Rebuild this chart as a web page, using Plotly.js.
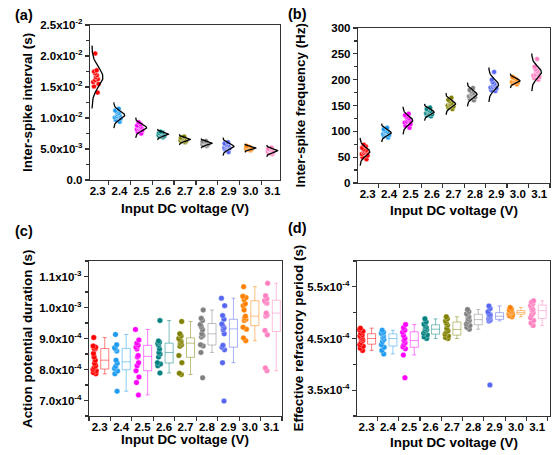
<!DOCTYPE html>
<html><head><meta charset="utf-8">
<script src="https://cdn.plot.ly/plotly-3.0.1.min.js"></script>
<style>html,body{margin:0;padding:0;background:#fff}#chart{width:555px;height:455px}</style>
</head><body><div id="chart"></div>
<script>
// ---------------- data ----------------
const voltages = [2.3, 2.4, 2.5, 2.6, 2.7, 2.8, 2.9, 3.0, 3.1];
const voltageLabels = ['2.3', '2.4', '2.5', '2.6', '2.7', '2.8', '2.9', '3.0', '3.1'];
const groupColors = ['#FF0000', '#1E9BF0', '#FF00FF', '#008080', '#808000', '#808080', '#5566F0', '#FF8000', '#FF80C0'];

// (a) inter-spike interval (s)
const isiValues = [
  [0.0204, 0.0177, 0.0175, 0.0172, 0.0169, 0.0166, 0.0163, 0.0161, 0.0158, 0.0155, 0.0151, 0.0141],
  [0.0115, 0.0112, 0.0110, 0.0108, 0.0106, 0.0104, 0.0103, 0.0101, 0.0099, 0.0097, 0.0094],
  [0.0093, 0.0090, 0.0088, 0.0087, 0.0086, 0.0085, 0.0084, 0.0083, 0.0082, 0.0080, 0.0078, 0.0075],
  [0.0078, 0.0077, 0.0076, 0.0075, 0.0074, 0.0074, 0.0073, 0.0073, 0.0072, 0.0071, 0.0070, 0.0069],
  [0.0070, 0.0068, 0.0067, 0.0066, 0.0066, 0.0065, 0.0065, 0.0064, 0.0063, 0.0062, 0.0061],
  [0.0063, 0.0062, 0.0061, 0.0060, 0.0060, 0.0059, 0.0059, 0.0058, 0.0057, 0.0056, 0.0055],
  [0.0061, 0.0059, 0.0057, 0.0056, 0.0055, 0.0054, 0.0053, 0.0052, 0.0051, 0.0049, 0.0045],
  [0.0055, 0.0054, 0.0053, 0.0052, 0.0052, 0.0051, 0.0051, 0.0050, 0.0049, 0.0048],
  [0.0052, 0.0050, 0.0049, 0.0048, 0.0048, 0.0047, 0.0047, 0.0046, 0.0045, 0.0043, 0.0042]
];
const isiTickVals = [0, 0.005, 0.010, 0.015, 0.020, 0.025];
const isiTickText = ['0.0', '5.0x10<sup>-3</sup>', '1.0x10<sup>-2</sup>', '1.5x10<sup>-2</sup>', '2.0x10<sup>-2</sup>', '2.5x10<sup>-2</sup>'];

// (b) inter-spike frequency (Hz)
const freqValues = [
  [74, 71, 68, 65, 63, 61, 60, 58, 56, 53, 50, 46],
  [107, 104, 101, 99, 98, 97, 96, 95, 93, 91, 88],
  [134, 131, 128, 125, 123, 121, 119, 117, 114, 111, 107],
  [146, 143, 141, 139, 138, 137, 136, 135, 133, 131, 129],
  [165, 161, 158, 155, 153, 152, 151, 150, 148, 146, 143],
  [184, 180, 177, 174, 172, 171, 170, 168, 166, 163, 160],
  [215, 200, 195, 192, 190, 188, 186, 185, 183, 180, 178],
  [205, 203, 201, 199, 198, 197, 196, 195, 193, 191],
  [240, 225, 220, 217, 215, 213, 210, 208, 205, 203, 200]
];
const freqTickVals = [0, 50, 100, 150, 200, 250, 300];
const freqTickText = ['0', '50', '100', '150', '200', '250', '300'];

// (c) action potential duration (s)
const apdValues = [
  [9.03e-4, 8.76e-4, 8.72e-4, 8.68e-4, 8.66e-4, 8.52e-4, 8.40e-4, 8.30e-4, 8.20e-4, 8.12e-4, 8.06e-4, 8.00e-4, 7.96e-4, 7.90e-4, 7.86e-4],
  [9.13e-4, 8.80e-4, 8.70e-4, 8.66e-4, 8.60e-4, 8.30e-4, 8.20e-4, 8.10e-4, 8.03e-4, 7.95e-4, 7.86e-4, 7.30e-4],
  [9.29e-4, 8.95e-4, 8.85e-4, 8.78e-4, 8.72e-4, 8.66e-4, 8.45e-4, 8.40e-4, 8.22e-4, 8.12e-4, 7.96e-4, 7.76e-4, 7.58e-4, 7.18e-4],
  [9.58e-4, 8.92e-4, 8.88e-4, 8.84e-4, 8.78e-4, 8.66e-4, 8.55e-4, 8.50e-4, 8.40e-4, 8.22e-4, 8.18e-4, 8.12e-4, 7.89e-4],
  [9.55e-4, 9.15e-4, 9.08e-4, 9.00e-4, 8.95e-4, 8.90e-4, 8.85e-4, 8.80e-4, 8.75e-4, 8.45e-4, 8.22e-4, 7.88e-4, 7.84e-4],
  [9.92e-4, 9.65e-4, 9.58e-4, 9.45e-4, 9.38e-4, 9.28e-4, 9.15e-4, 9.10e-4, 9.05e-4, 8.80e-4, 8.76e-4, 8.55e-4, 7.73e-4],
  [10.30e-4, 10.06e-4, 9.74e-4, 9.62e-4, 9.47e-4, 9.42e-4, 9.34e-4, 9.28e-4, 9.15e-4, 8.78e-4, 8.72e-4, 8.64e-4, 8.22e-4, 6.98e-4],
  [10.67e-4, 10.36e-4, 10.32e-4, 10.25e-4, 10.12e-4, 10.06e-4, 9.92e-4, 9.72e-4, 9.66e-4, 9.62e-4, 9.58e-4, 9.36e-4, 9.30e-4, 9.02e-4, 8.93e-4],
  [10.78e-4, 10.38e-4, 10.28e-4, 10.22e-4, 10.18e-4, 10.14e-4, 9.82e-4, 9.76e-4, 9.72e-4, 9.26e-4, 9.12e-4, 8.05e-4, 7.96e-4]
];
const apdTickVals = [7e-4, 8e-4, 9e-4, 1.0e-3, 1.1e-3];
const apdTickText = ['7.0x10<sup>-4</sup>', '8.0x10<sup>-4</sup>', '9.0x10<sup>-4</sup>', '1.0x10<sup>-3</sup>', '1.1x10<sup>-3</sup>'];

// (d) effective refractory period (s)
const erpValues = [
  [4.70e-4, 4.67e-4, 4.64e-4, 4.60e-4, 4.57e-4, 4.55e-4, 4.52e-4, 4.50e-4, 4.48e-4, 4.46e-4, 4.42e-4, 4.38e-4, 4.35e-4, 4.31e-4, 4.27e-4],
  [4.66e-4, 4.62e-4, 4.60e-4, 4.58e-4, 4.55e-4, 4.52e-4, 4.48e-4, 4.44e-4, 4.38e-4, 4.33e-4, 4.27e-4, 4.20e-4],
  [4.77e-4, 4.71e-4, 4.66e-4, 4.62e-4, 4.56e-4, 4.50e-4, 4.46e-4, 4.42e-4, 4.38e-4, 4.34e-4, 4.30e-4, 4.18e-4, 3.74e-4],
  [4.88e-4, 4.82e-4, 4.78e-4, 4.75e-4, 4.72e-4, 4.69e-4, 4.67e-4, 4.64e-4, 4.60e-4, 4.57e-4, 4.53e-4, 4.50e-4],
  [4.92e-4, 4.88e-4, 4.84e-4, 4.80e-4, 4.76e-4, 4.70e-4, 4.65e-4, 4.62e-4, 4.58e-4, 4.55e-4, 4.52e-4, 4.50e-4],
  [5.06e-4, 5.02e-4, 4.98e-4, 4.96e-4, 4.92e-4, 4.88e-4, 4.85e-4, 4.82e-4, 4.78e-4, 4.75e-4, 4.72e-4, 4.68e-4],
  [5.13e-4, 5.08e-4, 5.02e-4, 4.98e-4, 4.96e-4, 4.94e-4, 4.92e-4, 4.90e-4, 4.88e-4, 4.86e-4, 4.84e-4, 3.60e-4],
  [5.10e-4, 5.07e-4, 5.05e-4, 5.03e-4, 5.02e-4, 5.01e-4, 5.00e-4, 4.99e-4, 4.98e-4, 4.96e-4, 4.94e-4, 4.92e-4],
  [5.23e-4, 5.20e-4, 5.17e-4, 5.14e-4, 5.10e-4, 5.06e-4, 5.04e-4, 5.00e-4, 4.96e-4, 4.90e-4, 4.85e-4, 4.80e-4, 4.75e-4]
];
const erpTickVals = [3.5e-4, 4.5e-4, 5.5e-4];
const erpTickText = ['3.5x10<sup>-4</sup>', '4.5x10<sup>-4</sup>', '5.5x10<sup>-4</sup>'];

const panelLetters = ['(a)', '(b)', '(c)', '(d)'];
const yTitles = ['Inter-spike interval (s)', 'Inter-spike frequency (Hz)', 'Action potential duration (s)', 'Effective refractory period (s)'];
const xTitle = 'Input DC voltage (V)';

// ---------------- drawing ----------------
const FONT = '"Liberation Sans", Arial, sans-serif';
function rgba(hex, a) {
  const n = parseInt(hex.slice(1), 16);
  return 'rgba(' + ((n >> 16) & 255) + ',' + ((n >> 8) & 255) + ',' + (n & 255) + ',' + a + ')';
}
const traces = [];

function addPoints(data, xa, ya, jitter, pointpos, msize, edge) {
  data.forEach((vals, i) => {
    traces.push({
      type: 'box', xaxis: xa, yaxis: ya,
      x: vals.map(() => voltages[i]), y: vals,
      offsetgroup: 'pts', boxpoints: 'all', jitter: jitter, pointpos: pointpos,
      fillcolor: 'rgba(0,0,0,0)', line: {color: 'rgba(0,0,0,0)', width: 0}, whiskerwidth: 0,
      marker: {color: groupColors[i], size: msize, line: {color: edge, width: 0.6}},
      hoverinfo: 'skip', showlegend: false
    });
  });
}
function addBoxes(data, xa, ya) {
  data.forEach((vals, i) => {
    traces.push({
      type: 'box', xaxis: xa, yaxis: ya,
      x: vals.map(() => voltages[i]), y: vals,
      offsetgroup: 'box', boxpoints: 'outliers',
      marker: {color: 'rgba(0,0,0,0)', size: 1, line: {width: 0}},
      fillcolor: 'rgba(255,255,255,0)', line: {color: rgba(groupColors[i], 0.5), width: 1},
      whiskerwidth: 0.5, hoverinfo: 'skip', showlegend: false
    });
  });
}
function addCurves(data, xa, ya, base, peak) {
  data.forEach((vals, i) => {
    const n = vals.length;
    const mean = vals.reduce((s, v) => s + v, 0) / n;
    const sd = Math.sqrt(vals.reduce((s, v) => s + (v - mean) * (v - mean), 0) / (n - 1));
    const xs = [], ys = [];
    for (let k = 0; k <= 80; k++) {
      const z = -3.2 + 6.4 * k / 80;
      ys.push(mean + z * sd);
      xs.push(voltages[i] + base + peak * Math.exp(-0.5 * z * z));
    }
    traces.push({type: 'scatter', mode: 'lines', xaxis: xa, yaxis: ya, x: xs, y: ys,
      line: {color: '#000', width: 1.3}, hoverinfo: 'skip', showlegend: false});
  });
}

addPoints(isiValues, 'x', 'y', 0.42, -0.2, 5, 'rgba(255,255,255,0.8)');
addCurves(isiValues, 'x', 'y', -0.026, 0.05);
addPoints(freqValues, 'x2', 'y2', 0.45, -0.35, 5, 'rgba(255,255,255,0.8)');
addCurves(freqValues, 'x2', 'y2', -0.035, 0.045);
addPoints(apdValues, 'x3', 'y3', 0.55, 0, 5.5, 'rgba(255,255,255,0.5)');
addBoxes(apdValues, 'x3', 'y3');
addPoints(erpValues, 'x4', 'y4', 0.55, 0, 5.5, 'rgba(255,255,255,0.5)');
addBoxes(erpValues, 'x4', 'y4');

const tickFont = {family: FONT, size: 11.5, weight: 'bold', color: '#000'};
const lineCol = '#333';
function xAxis(domain, anchor, range) {
  return {domain: domain, anchor: anchor, range: range, showline: true, mirror: true, linecolor: lineCol, linewidth: 1.2,
    showgrid: false, zeroline: false, tickmode: 'array', tickvals: voltages, ticktext: voltageLabels,
    ticks: 'outside', ticklen: 0, tickfont: tickFont,
    minor: {ticks: 'outside', ticklen: 4, tickwidth: 1.2, tickcolor: lineCol, tick0: 2.25, dtick: 0.1}};
}
function yAxis(domain, anchor, range, tv, tt, mdt) {
  return {domain: domain, anchor: anchor, range: range, showline: true, mirror: true, linecolor: lineCol, linewidth: 1.2,
    showgrid: false, zeroline: false, tickmode: 'array', tickvals: tv, ticktext: tt,
    ticks: 'outside', ticklen: 4, tickwidth: 1.2, tickcolor: lineCol, tickfont: tickFont,
    minor: {ticks: 'outside', ticklen: 2.5, tickwidth: 1.2, tickcolor: lineCol, tick0: 0, dtick: mdt}};
}
const W = 555, H = 455;
const px = v => v / W, py = v => 1 - v / H;

const annotations = [];
const letterPos = [[24, 15], [297, 14], [24, 231], [297, 228]];
const yTitlePos = [[27.5, 102.5], [300, 105.5], [27.5, 338.5], [298, 338.5]];
const xTitlePos = [[185, 209], [454, 210], [185.5, 439], [454, 442]];
for (let k = 0; k < 4; k++) {
  annotations.push({xref: 'paper', yref: 'paper', x: px(letterPos[k][0]), y: py(letterPos[k][1]), text: panelLetters[k],
    showarrow: false, xanchor: 'center', yanchor: 'middle', font: {family: FONT, size: 14.5, weight: 'bold', color: '#000'}});
  annotations.push({xref: 'paper', yref: 'paper', x: px(yTitlePos[k][0]), y: py(yTitlePos[k][1]), text: yTitles[k], textangle: -90,
    showarrow: false, xanchor: 'center', yanchor: 'middle', font: {family: FONT, size: 13.4, weight: 'bold', color: '#000'}});
  annotations.push({xref: 'paper', yref: 'paper', x: px(xTitlePos[k][0]), y: py(xTitlePos[k][1]), text: xTitle,
    showarrow: false, xanchor: 'center', yanchor: 'middle', font: {family: FONT, size: 13.4, weight: 'bold', color: '#000'}});
}

const layout = {
  width: W, height: H, margin: {l: 0, r: 0, t: 0, b: 0},
  paper_bgcolor: '#fff', plot_bgcolor: '#fff', showlegend: false,
  boxmode: 'group', boxgap: 0.06, boxgroupgap: 0.2,
  xaxis: xAxis([px(90), px(280)], 'y', [2.265, 3.135]),
  yaxis: yAxis([py(180), py(25)], 'x', [0, 0.025], isiTickVals, isiTickText, 0.0025),
  xaxis2: xAxis([px(358), px(550)], 'y2', [2.255, 3.15]),
  yaxis2: yAxis([py(183), py(28)], 'x2', [0, 300], freqTickVals, freqTickText, 25),
  xaxis3: xAxis([px(89), px(282)], 'y3', [2.25, 3.15]),
  yaxis3: yAxis([py(416), py(261)], 'x3', [6.5e-4, 1.15e-3], apdTickVals, apdTickText, 0.5e-4),
  xaxis4: xAxis([px(357), px(550)], 'y4', [2.255, 3.16]),
  yaxis4: yAxis([py(416), py(261)], 'x4', [3.0e-4, 6.0e-4], erpTickVals, erpTickText, 0.5e-4),
  annotations: annotations
};
Plotly.newPlot('chart', traces, layout, {staticPlot: true, displayModeBar: false});
</script>
</body></html>
